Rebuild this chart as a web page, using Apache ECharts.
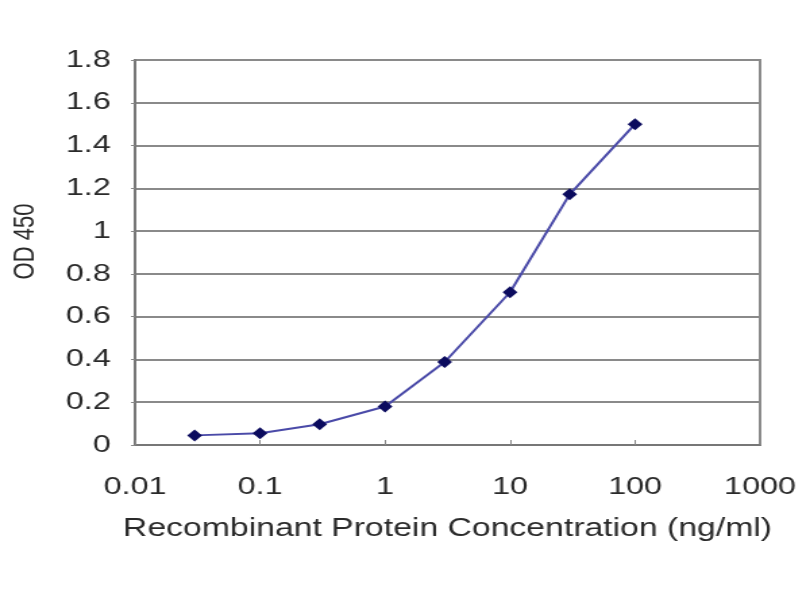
<!DOCTYPE html>
<html>
<head>
<meta charset="utf-8">
<script src="https://cdn.jsdelivr.net/npm/echarts@6/dist/echarts.min.js"></script>
<style>
html,body{margin:0;padding:0;background:#fff;overflow:hidden}
#wrap{width:800px;height:600px;overflow:hidden}
#c{width:592.6px;height:600px;transform:scaleX(1.35);transform-origin:0 0}
</style>
</head>
<body>
<div id="wrap"><div id="c"></div></div>
<script>
var concentrations = [0.03, 0.1, 0.3, 1, 3, 10, 30, 100];
var odValues = [0.045, 0.055, 0.097, 0.18, 0.388, 0.714, 1.172, 1.50];
var xTickLabels = ['0.01', '0.1', '1', '10', '100', '1000'];
var yTickLabels = ['0', '0.2', '0.4', '0.6', '0.8', '1', '1.2', '1.4', '1.6', '1.8'];

var chart = echarts.init(document.getElementById('c'));
var pts = concentrations.map(function (c, i) { return [c, odValues[i]]; });
var font = 'Liberation Sans, Arial, sans-serif';
chart.setOption({
  animation: false,
  grid: { left: 96, right: 30, top: 60, bottom: 155, show: true, borderColor: '#8a8a8a', borderWidth: 2, backgroundColor: '#fff' },
  xAxis: {
    type: 'log', logBase: 10, min: 0.01, max: 1000,
    name: 'Recombinant Protein Concentration (ng/ml)',
    nameLocation: 'middle', nameGap: 72,
    nameTextStyle: { fontFamily: font, fontSize: 25, color: '#2a2a2a' },
    axisLine: { lineStyle: { color: '#777', width: 2 } },
    axisTick: { inside: true, length: 5, lineStyle: { color: '#888' } },
    splitLine: { show: false },
    minorTick: { show: false },
    axisLabel: {
      fontFamily: font, fontSize: 24, color: '#2a2a2a', margin: 30,
      formatter: function (v) {
        var e = Math.round(Math.log10(v)) + 2;
        return xTickLabels[e] !== undefined ? xTickLabels[e] : '';
      }
    }
  },
  yAxis: {
    type: 'value', min: 0, max: 1.8, interval: 0.2,
    name: 'OD 450', nameLocation: 'middle', nameGap: 70,
    nameTextStyle: { fontFamily: font, fontSize: 22, color: '#2a2a2a', padding: [0, 0, 0, 22] },
    axisLine: { show: true, lineStyle: { color: '#777', width: 2 } },
    axisTick: { show: true, length: 3, lineStyle: { color: '#888' } },
    splitLine: { lineStyle: { color: '#8a8a8a', width: 2 } },
    axisLabel: {
      fontFamily: font, fontSize: 24, color: '#2a2a2a', margin: 18,
      formatter: function (v) {
        var i = Math.round(v / 0.2);
        return yTickLabels[i];
      }
    }
  },
  series: [{
    type: 'line',
    data: pts,
    symbol: 'diamond',
    symbolSize: [11, 12],
    lineStyle: { color: '#4a4aa8', width: 2 },
    itemStyle: { color: '#0b0b5e', borderWidth: 0 }
  }]
});
</script>
</body>
</html>
